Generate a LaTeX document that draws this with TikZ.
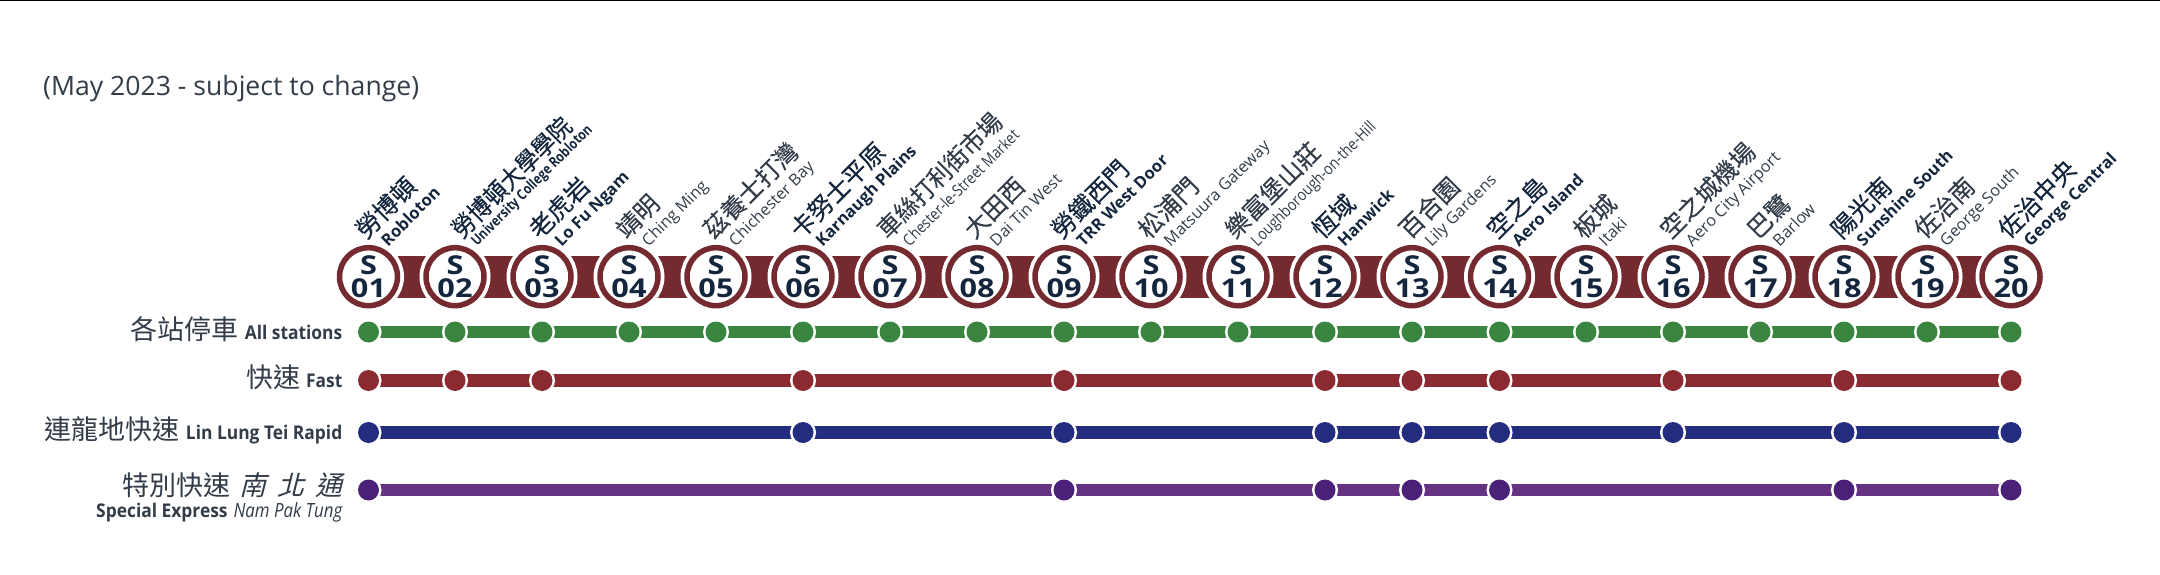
\documentclass[tikz,border=0pt]{standalone}
\usepackage{fontspec}
\usepackage{graphicx}
\setmainfont{Open Sans}
\newfontfamily\zh[FakeBold=0.06]{Noto Sans CJK TC}
\newfontfamily\zhrow{Noto Sans CJK TC}
\newfontfamily\zhb[FakeBold=0.3]{Noto Sans CJK TC}
\newfontfamily\zhit[FakeSlant=0.25]{Noto Sans CJK TC}
\newfontfamily\enc[FakeStretch=0.92]{Open Sans}
\newfontfamily\enit[FakeStretch=0.86]{Open Sans}
\newfontfamily\enwide[FakeStretch=1.18]{Open Sans}
\usetikzlibrary{backgrounds}
\definecolor{ink}{HTML}{14263D}
\definecolor{soft}{HTML}{323D49}
\definecolor{bandc}{HTML}{752A30}
\definecolor{gline}{HTML}{3A853F}
\definecolor{rline}{HTML}{8B2A30}
\definecolor{bline}{HTML}{232C7E}
\definecolor{pline}{HTML}{663382}
\definecolor{pdot}{HTML}{4A2078}
\tikzset{
  x=1pt,y=-1pt,
  ringnode/.style={circle,draw=bandc,line width=5.5pt,fill=white,minimum size=58pt,inner sep=0pt,
    preaction={draw=white,line width=13pt},font=\enwide\bfseries\fontsize{26}{23}\selectfont,text=ink,align=center},
  bandlink/.style={draw=bandc,line width=42pt},
  dotnode/.style={circle,minimum size=21pt,inner sep=0pt,fill=#1,preaction={draw=white,line width=5pt}},
  linelink/.style={draw=#1,line width=12.5pt},
  namezh/.style={rotate=45,anchor=base west,inner sep=0pt,font=\zh\fontsize{24.5}{24}\selectfont,text=soft},
  nameen/.style={rotate=45,anchor=base west,inner sep=0pt,font=\fontsize{16.2}{16}\selectfont,text=soft},
  boldname/.style={text=ink,font=\zhb\fontsize{24.5}{24}\selectfont},
  boldnameen/.style={text=ink,font=\bfseries\fontsize{16.5}{16}\selectfont},
  rowlabel/.style={anchor=base east,inner sep=0pt,text=soft,font=\zhrow\fontsize{27}{27}\selectfont},
}
\newcommand{\rowen}[1]{{\enc\bfseries\fontsize{18.9}{19}\selectfont #1}}
\begin{document}
\begin{tikzpicture}
\useasboundingbox (0,0) rectangle (2160,575);
\begin{pgfonlayer}{background}
\fill[white] (0,0) rectangle (2160,575);
\end{pgfonlayer}
\draw[black,line width=2pt] (0,0) -- (2160,0);
\node[anchor=base west,inner sep=0pt,text=soft,font=\fontsize{26.6}{25}\selectfont] (title) at (43,95.5) {(May 2023 - subject to change)};
% stations
\foreach \i/\x in {01/368.5,02/455,03/542,04/629,05/716,06/803,07/890,08/977,09/1064,10/1151,11/1238,12/1325,13/1412,14/1499.5,15/1586,16/1673,17/1760,18/1844,19/1927,20/2011}{
  \node[ringnode] (s\i) at (\x,276.7) {S\\\i};
  \node[dotnode=gline] (g\i) at (\x,332) {};
}
\foreach \i in {01,02,03,06,09,12,13,14,16,18,20}{
  \path (s\i |- 0,380.5) node[dotnode=rline] (r\i) {};
}
\foreach \i in {01,06,09,12,13,14,16,18,20}{
  \path (s\i |- 0,432.5) node[dotnode=bline] (b\i) {};
}
\foreach \i in {01,09,12,13,14,18,20}{
  \path (s\i |- 0,490) node[dotnode=pdot] (p\i) {};
}
\begin{pgfonlayer}{background}
\foreach \a/\b in {01/02,02/03,03/04,04/05,05/06,06/07,07/08,08/09,09/10,10/11,11/12,12/13,13/14,14/15,15/16,16/17,17/18,18/19,19/20}{
  \draw[bandlink] (s\a.center) -- (s\b.center);
  \draw[linelink=gline] (g\a.center) -- (g\b.center);
}
\foreach \a/\b in {01/02,02/03,03/06,06/09,09/12,12/13,13/14,14/16,16/18,18/20}{
  \draw[linelink=rline] (r\a.center) -- (r\b.center);
}
\foreach \a/\b in {01/06,06/09,09/12,12/13,13/14,14/16,16/18,18/20}{
  \draw[linelink=bline] (b\a.center) -- (b\b.center);
}
\foreach \a/\b in {01/09,09/12,12/13,13/14,14/18,18/20}{
  \draw[linelink=pline] (p\a.center) -- (p\b.center);
}
\end{pgfonlayer}
% station names
\foreach \i/\zhn/\enn/\sq/\sz in {
 04/靖明/Ching Ming/1/1,05/茲養士打灣/Chichester Bay/1/1,07/車絲打利街市場/Chester-le-Street Market/0.85/0.96,08/大田西/Dai Tin West/1/1,10/松浦門/Matsuura Gateway/1/1,11/樂富堡山莊/Loughborough-on-the-Hill/0.86/1,13/百合園/Lily Gardens/1/1,15/板城/Itaki/1/1,16/空之城機場/Aero City Airport/1/1,17/巴鷺/Barlow/1/1,19/佐治南/George South/1/1}{
  \node[namezh] (z\i) at ([shift={(-2.5,-36.5)}]s\i.center) {\scalebox{\sz}[1]{\zhn}};
  \node[nameen] (e\i) at ([shift={(19.5,-29.5)}]s\i.center) {\scalebox{\sq}[1]{\enn}};
}
\foreach \i/\zhn/\enn in {
 01/勞博頓/Robloton,03/老虎岩/Lo Fu Ngam,06/卡努士平原/Karnaugh Plains,09/勞鐵西門/TRR West Door,12/恆域/Hanwick,14/空之島/Aero Island,18/陽光南/Sunshine South,20/佐治中央/George Central}{
  \node[namezh,boldname] (z\i) at ([shift={(-2.5,-36.5)}]s\i.center) {\zhn};
  \node[nameen,boldnameen] (e\i) at ([shift={(19.5,-29.5)}]s\i.center) {\enn};
}
\node[namezh,boldname] (z02) at ([shift={(7,-37)}]s02.center) {\scalebox{0.92}[1]{勞博頓大學學院}};
\node[nameen,boldnameen,font=\bfseries\fontsize{14.3}{14}\selectfont] (e02) at ([shift={(22,-30)}]s02.center) {\scalebox{0.83}[1]{University College Robloton}};
% row labels
\node[rowlabel] (lg) at (342.5,339) {各站停車 \rowen{All stations}};
\node[rowlabel] (lr) at (342.5,387.5) {快速 \rowen{Fast}};
\node[rowlabel] (lb) at (342.5,439.5) {連龍地快速 \rowen{Lin Lung Tei Rapid}};
\node[rowlabel] (lp) at (342.5,495.5) {特別快速\hspace{9pt}{\zhit 南\hspace{11pt}北\hspace{11pt}通}};
\node[anchor=base east,inner sep=0pt,text=soft] (lp2) at (342.5,517) {\rowen{Special Express}\hspace{6pt}{\enit\itshape\fontsize{19.6}{19}\selectfont Nam Pak Tung}};
\end{tikzpicture}
\end{document}
